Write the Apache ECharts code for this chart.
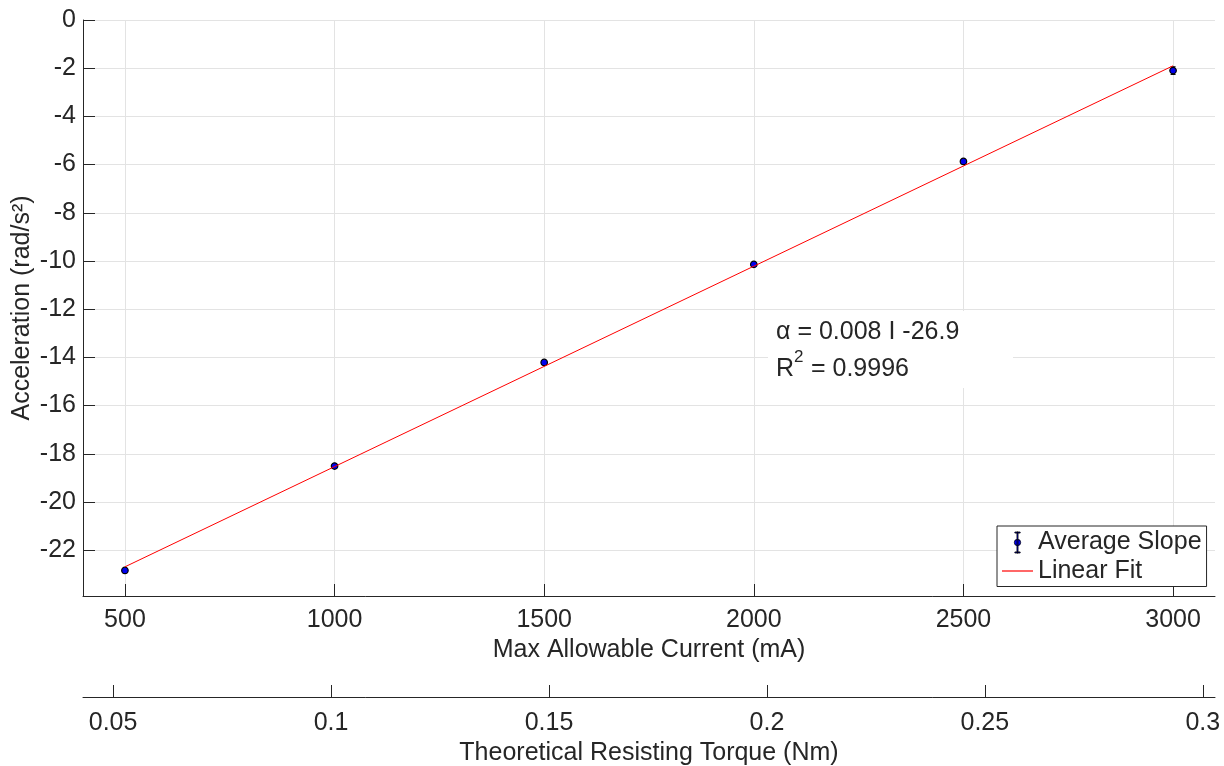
<!DOCTYPE html>
<html>
<head>
<meta charset="utf-8">
<script src="https://cdn.jsdelivr.net/npm/echarts@6/dist/echarts.min.js"></script>
<style>
  html, body { margin: 0; padding: 0; background: #fff; }
  #chart { width: 1224px; height: 766px; }
</style>
</head>
<body>
<div id="chart"></div>
<script>
// Measured average slopes (angular acceleration) per current limit
const currentMA = [500, 1000, 1500, 2000, 2500, 3000];
const avgSlope = [-22.84, -18.51, -14.21, -10.14, -5.87, -2.10];
const slopeErr = [0.05, 0.07, 0.06, 0.05, 0.04, 0.16];

// Linear fit endpoints
const fitCurrent = [500, 3000];
const fitAccel = [-22.69, -1.90];

// Tick values
const currentTicks = [500, 1000, 1500, 2000, 2500, 3000];
const torqueTicks = [0.05, 0.1, 0.15, 0.2, 0.25, 0.3];
const accelTicks = [-22, -20, -18, -16, -14, -12, -10, -8, -6, -4, -2, 0];

const FONT = "'Liberation Sans', Arial, Helvetica, sans-serif";
const INK = '#262626';
const GRID = '#e3e3e3';
const FS = 25;

const chart = echarts.init(document.getElementById('chart'), null, { renderer: 'canvas' });

const pointData = currentMA.map((c, i) => [c, avgSlope[i]]);
const errData = currentMA.map((c, i) => [c, avgSlope[i] - slopeErr[i], avgSlope[i] + slopeErr[i]]);
const fitData = fitCurrent.map((c, i) => [c, fitAccel[i]]);

const plain = v => String(v);

const errIcon = 'path://M13 0H18V1H13Z M15 0H16V20H15Z M13 19H18V20H13Z ' +
  'M15.5 7A3 3 0 1 1 15.5 13A3 3 0 1 1 15.5 7Z';
const lineIcon = 'path://M0 0H31V1.2H0Z';

function axisBase(extra) {
  return Object.assign({
    axisLine: { show: true, onZero: false, lineStyle: { color: INK, width: 1 } },
    nameTextStyle: { fontSize: FS, color: INK, fontFamily: FONT }
  }, extra);
}

const option = {
  backgroundColor: '#fff',
  animation: false,
  textStyle: { fontFamily: FONT },
  grid: { left: 83, right: 9, top: 20, bottom: 170, containLabel: false, outerBoundsMode: 'none' },
  legend: {
    left: 997, top: 526,
    orient: 'vertical',
    padding: [4, 5, 3, 5],
    itemGap: 3.5,
    itemWidth: 31,
    itemHeight: 21,
    backgroundColor: '#fff',
    borderColor: INK,
    borderWidth: 1,
    borderRadius: 0,
    textStyle: { fontSize: FS, color: INK, fontFamily: FONT },
    data: [
      { name: 'Average Slope', icon: errIcon,
        itemStyle: { color: '#0000ff', borderColor: '#000', borderWidth: 0.8 } },
      { name: 'Linear Fit', icon: lineIcon,
        itemStyle: { color: '#ff0000', borderWidth: 0 } }
    ]
  },
  xAxis: [
    axisBase({
      type: 'value', min: 400, max: 3100, position: 'bottom',
      name: 'Max Allowable Current (mA)', nameLocation: 'middle', nameGap: 32,
      axisTick: { show: true, inside: true, length: 12, customValues: currentTicks,
        lineStyle: { color: INK, width: 1 } },
      axisLabel: { customValues: currentTicks, formatter: plain, fontSize: FS, color: INK,
        margin: 12, fontFamily: FONT },
      splitLine: { show: true, lineStyle: { color: GRID, width: 1 } }
    }),
    axisBase({
      type: 'value', min: 0.0431, max: 0.3028, position: 'bottom', offset: 101,
      name: 'Theoretical Resisting Torque (Nm)', nameLocation: 'middle', nameGap: 37,
      axisTick: { show: true, inside: true, length: 12, customValues: torqueTicks,
        lineStyle: { color: INK, width: 1 } },
      axisLabel: { customValues: torqueTicks, formatter: plain, fontSize: FS, color: INK,
        margin: 14, fontFamily: FONT },
      splitLine: { show: false }
    })
  ],
  yAxis: axisBase({
    type: 'value', min: -23.9, max: 0, position: 'left',
    name: 'Acceleration (rad/s\u00b2)', nameLocation: 'middle', nameGap: 48,
    nameMoveOverlap: false,
    axisTick: { show: true, inside: true, length: 12, customValues: accelTicks,
      lineStyle: { color: INK, width: 1 } },
    axisLabel: { customValues: accelTicks, formatter: plain, fontSize: FS, color: INK,
      margin: 7, fontFamily: FONT },
    splitLine: { show: true, lineStyle: { color: GRID, width: 1 } }
  }),
  series: [
    {
      name: 'Average Slope',
      type: 'custom',
      xAxisIndex: 0, yAxisIndex: 0,
      z: 3,
      data: errData,
      renderItem: function (params, api) {
        const x = api.value(0);
        const lo = api.coord([x, api.value(1)]);
        const hi = api.coord([x, api.value(2)]);
        const cap = 2.5;
        const st = { stroke: '#000', lineWidth: 1 };
        return {
          type: 'group',
          children: [
            { type: 'line', shape: { x1: lo[0], y1: lo[1], x2: hi[0], y2: hi[1] }, style: st },
            { type: 'line', shape: { x1: lo[0] - cap, y1: lo[1], x2: lo[0] + cap, y2: lo[1] }, style: st },
            { type: 'line', shape: { x1: hi[0] - cap, y1: hi[1], x2: hi[0] + cap, y2: hi[1] }, style: st }
          ]
        };
      }
    },
    {
      name: 'Average Slope',
      type: 'scatter',
      xAxisIndex: 0, yAxisIndex: 0,
      z: 4,
      symbol: 'circle',
      symbolSize: 6.5,
      itemStyle: { color: '#0000ee', borderColor: '#000', borderWidth: 1.2, opacity: 1 },
      data: pointData
    },
    {
      name: 'Linear Fit',
      type: 'line',
      xAxisIndex: 0, yAxisIndex: 0,
      z: 5,
      symbol: 'none',
      showSymbol: false,
      lineStyle: { color: '#ff0000', width: 1 },
      itemStyle: { color: '#ff0000' },
      data: fitData
    }
  ],
  graphic: [
    { type: 'rect', z: 10, shape: { x: 768, y: 311, width: 245, height: 77 },
      style: { fill: '#fff' } },
    { type: 'text', z: 11, x: 776, y: 332.5,
      style: { text: '\u03b1 = 0.008 I -26.9', fontSize: FS, fontFamily: FONT, fill: INK,
        verticalAlign: 'middle', align: 'left' } },
    { type: 'text', z: 11, x: 776, y: 369.5,
      style: { text: 'R', fontSize: FS, fontFamily: FONT, fill: INK,
        verticalAlign: 'middle', align: 'left' } },
    { type: 'text', z: 11, x: 794, y: 357,
      style: { text: '2', fontSize: 17, fontFamily: FONT, fill: INK,
        verticalAlign: 'middle', align: 'left' } },
    { type: 'text', z: 11, x: 804, y: 369.5,
      style: { text: ' = 0.9996', fontSize: FS, fontFamily: FONT, fill: INK,
        verticalAlign: 'middle', align: 'left' } }
  ]
};

chart.setOption(option);
</script>
</body>
</html>
